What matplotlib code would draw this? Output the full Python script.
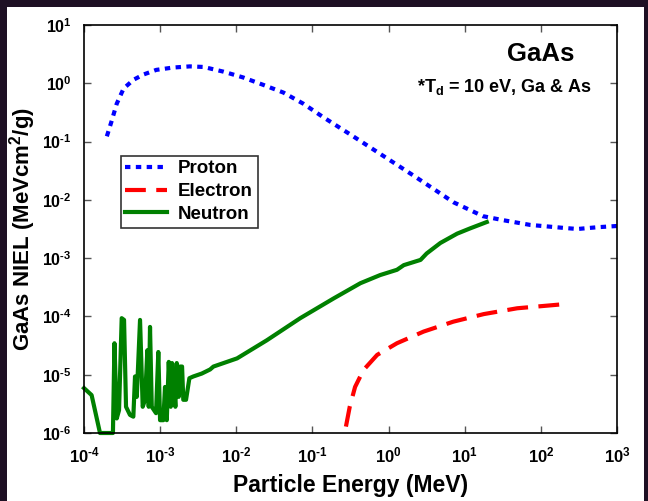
import numpy as np
import matplotlib.pyplot as plt
from matplotlib.patches import Rectangle
from matplotlib.ticker import FuncFormatter

plt.rcParams["font.family"] = ["Liberation Sans", "DejaVu Sans"]
plt.rcParams["font.weight"] = "bold"
plt.rcParams["mathtext.default"] = "regular"

# log10(E / MeV) and log10(NIEL / MeV cm^2 g^-1)
proton_logE = [-3.70, -3.64, -3.57, -3.48, -3.35, -3.22, -3.05, -2.83, -2.61, -2.43,
               -2.17, -1.91, -1.64, -1.38, -1.12, -0.86, -0.50, -0.10, 0.30, 0.60,
               0.85, 1.24, 1.51, 1.86, 2.29, 2.48, 2.74, 2.98, 3.0]
proton_logN = [-0.91, -0.66, -0.35, -0.09, 0.06, 0.15, 0.23, 0.27, 0.29, 0.28,
               0.20, 0.10, -0.03, -0.16, -0.35, -0.58, -0.88, -1.22, -1.56, -1.82,
               -2.04, -2.28, -2.35, -2.43, -2.48, -2.50, -2.47, -2.45, -2.45]

electron_logE = [-0.56, -0.51, -0.44, -0.33, -0.15, 0.11, 0.46, 0.85, 1.25, 1.69, 2.30]
electron_logN = [-5.89, -5.55, -5.21, -4.92, -4.66, -4.46, -4.26, -4.09, -3.96, -3.86, -3.79]

neutron_logE = [-4.0, -3.90, -3.79, -3.62, -3.60, -3.57, -3.54, -3.505, -3.474, -3.448,
                -3.396, -3.352, -3.330, -3.307, -3.264, -3.229, -3.198, -3.168, -3.150, -3.133,
                -3.110, -3.054, -3.024, -3.001, -2.958, -2.936, -2.913, -2.887, -2.861, -2.844,
                -2.817, -2.800, -2.782, -2.756, -2.739, -2.712, -2.696, -2.660, -2.616, -2.564,
                -2.453, -2.344, -2.30, -1.99, -1.60, -1.16, -0.72, -0.37, -0.11, 0.11,
                0.20, 0.42, 0.50, 0.68, 0.90, 1.07, 1.29]
neutron_logN = [-5.23, -5.35, -6.0, -6.0, -4.46, -5.75, -5.61, -4.03, -4.06, -5.55,
                -5.69, -5.72, -5.03, -5.38, -4.06, -5.55, -5.43, -4.58, -5.55, -4.18,
                -5.55, -5.66, -4.61, -5.78, -5.78, -5.21, -5.78, -4.78, -5.55, -4.80,
                -5.26, -5.55, -4.80, -5.38, -4.86, -4.86, -5.43, -5.43, -5.06, -5.03,
                -4.98, -4.91, -4.86, -4.72, -4.41, -4.03, -3.69, -3.43, -3.29, -3.20,
                -3.12, -3.03, -2.92, -2.74, -2.58, -2.49, -2.38]


def pow10(v, pos):
    k = int(round(np.log10(v)))
    exp = ("\u2010" + str(-k)) if k < 0 else str(k)
    return "10$^{" + exp + "}$"


fig = plt.figure(figsize=(6.48, 5.01), dpi=100, facecolor="#1e1024")
fig.patches.append(Rectangle((7 / 648, 0), 637 / 648, 494 / 501, transform=fig.transFigure,
                             facecolor="white", edgecolor="none", zorder=-1))
ax = fig.add_axes([84 / 648, 1 - 433 / 501, 533 / 648, 408 / 501])

ax.plot(10 ** np.array(proton_logE), 10 ** np.array(proton_logN), color="#0000ff",
        lw=3, linestyle=(0, (1.3, 1.3)), label="Proton")
ax.plot(10 ** np.array(electron_logE), 10 ** np.array(electron_logN), color="#ff0000",
        lw=3, linestyle=(0, (5, 2.5)), label="Electron")
ax.plot(10 ** np.array(neutron_logE), 10 ** np.array(neutron_logN), color="#008000",
        lw=3, label="Neutron", clip_on=False)

ax.set_xscale("log")
ax.set_yscale("log")
ax.set_xlim(1e-4, 1e3)
ax.set_ylim(1e-6, 1e1)
ax.set_xticks([10.0 ** k for k in range(-4, 4)])
ax.set_yticks([10.0 ** k for k in range(-6, 2)])
ax.minorticks_off()
ax.xaxis.set_major_formatter(FuncFormatter(pow10))
ax.yaxis.set_major_formatter(FuncFormatter(pow10))
ax.tick_params(direction="in", length=5, width=1, top=True, right=True,
               labelsize=12, color="#555555")
ax.tick_params(axis="x", pad=9)
ax.tick_params(axis="y", pad=9, labelsize=11.5)
for s in ax.spines.values():
    s.set_linewidth(1.2)

ax.set_xlabel("Particle Energy (MeV)", fontsize=16.5, fontweight="bold", labelpad=6)
ax.set_ylabel("GaAs NIEL (MeVcm$^2$/g)", fontsize=16, fontweight="bold")
ax.yaxis.set_label_coords(-0.086, 0.5)

ax.text(0.856, 0.929, "GaAs", transform=ax.transAxes, fontsize=18.5, fontweight="bold",
        ha="center", va="center")
ax.text(0.79, 0.848, "*T$_d$ = 10 eV, Ga & As", transform=ax.transAxes, fontsize=13,
        fontweight="bold", ha="center", va="center")

leg = ax.legend(loc="upper left", bbox_to_anchor=(0.069, 0.68), fontsize=13.5,
                frameon=True, fancybox=False, edgecolor="black", handlelength=2.2,
                borderpad=0.25, labelspacing=0.3, handletextpad=0.6, borderaxespad=0)
leg.get_frame().set_linewidth(1.2)

fig.savefig("out.png", dpi=100, facecolor=fig.get_facecolor())
